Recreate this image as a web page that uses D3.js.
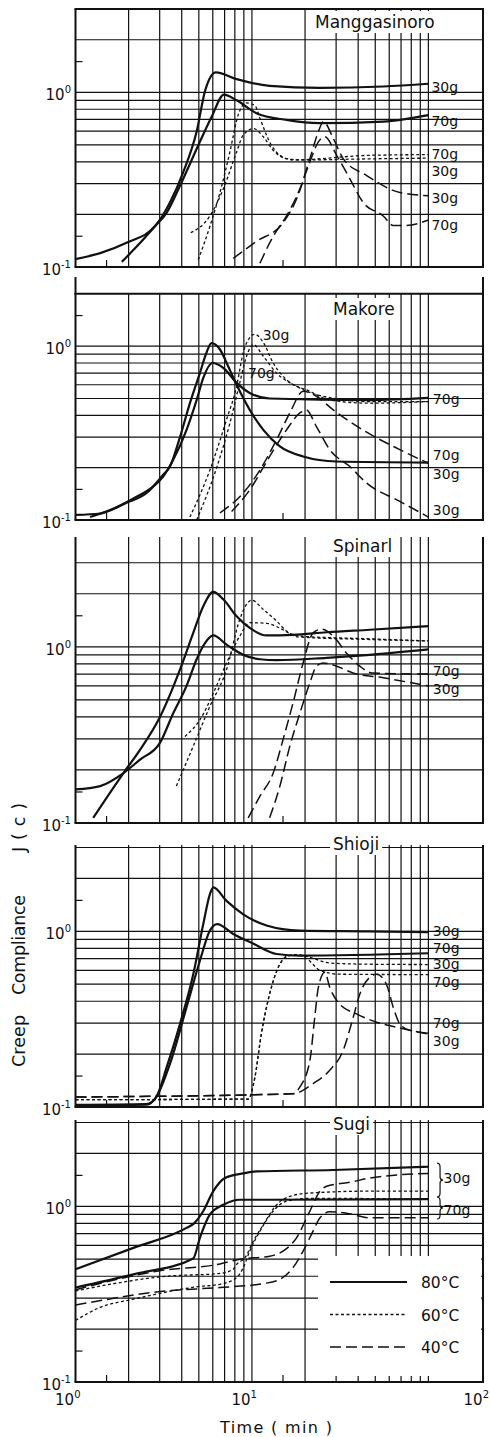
<!DOCTYPE html>
<html>
<head>
<meta charset="utf-8">
<script src="https://cdn.jsdelivr.net/npm/d3@7"></script>
<style>
  body { margin: 0; background: #fff; }
  svg { display: block; background: #fff; }
  text { font-family: "DejaVu Sans", sans-serif; fill: #111; }
</style>
</head>
<body>
<svg id="chart" width="490" height="1437"></svg>
<script>
// ---- data: [time (min), creep compliance J(c)] ----
const woods = ["Manggasinoro", "Makore", "Spinarl", "Shioji", "Sugi"];

// Manggasinoro
const mang80_30 = [[1,0.111],[1.38,0.120],[1.96,0.138],[2.82,0.171],[3.43,0.234],[4.08,0.349],[4.86,0.596],[5.42,1.016],[6.25,1.30],[8.19,1.19],[12.6,1.09],[24.3,1.06],[55.5,1.08],[100,1.12]];
const mang80_70 = [[1.83,0.107],[2.32,0.137],[2.82,0.171],[3.29,0.205],[3.91,0.292],[5.07,0.521],[5.93,0.73],[6.94,0.97],[8.19,0.90],[10.6,0.76],[15.7,0.695],[24.3,0.666],[55.5,0.68],[100,0.74]];
const mang60_70 = [[4.96,0.11],[5.78,0.171],[6.59,0.267],[7.5,0.456],[8.36,0.743],[9.3,0.87],[10.4,0.84],[11.1,0.71],[12.6,0.52],[14.4,0.436],[17.1,0.41],[46.6,0.436],[100,0.44]];
const mang60_30 = [[4.5,0.157],[5.78,0.196],[6.88,0.28],[8.19,0.456],[8.93,0.57],[10.2,0.62],[11.6,0.557],[13.2,0.466],[15.7,0.417],[19.5,0.41],[40,0.415],[100,0.42]];
const mang40_30 = [[7.83,0.112],[10.6,0.140],[15.0,0.179],[17.9,0.245],[21.3,0.417],[23.8,0.596],[25.4,0.68],[28.9,0.545],[32.9,0.417],[44.7,0.334],[68.9,0.267],[100,0.256]];
const mang40_70 = [[11.1,0.105],[13.2,0.15],[15.7,0.196],[18.7,0.28],[21.3,0.40],[23.8,0.52],[25.9,0.557],[30.2,0.436],[35.9,0.32],[42.7,0.234],[55.5,0.196],[63.2,0.173],[75.2,0.173],[100,0.186]];

// Makore
const mak80_30 = [[1,0.107],[1.38,0.109],[1.92,0.125],[2.53,0.143],[3.14,0.182],[3.43,0.203],[3.91,0.30],[4.45,0.47],[5.07,0.70],[5.53,0.92],[5.9,1.04],[6.59,0.957],[7.33,0.767],[8.19,0.60],[9.72,0.43],[11.6,0.33],[14.4,0.265],[19.5,0.232],[30.2,0.217],[100,0.214]];
const mak80_70 = [[1.21,0.104],[1.57,0.114],[2.13,0.133],[2.76,0.156],[3.14,0.178],[3.58,0.222],[4.26,0.33],[4.86,0.49],[5.3,0.657],[5.97,0.80],[6.88,0.75],[8.19,0.615],[9.72,0.538],[12.6,0.50],[46.6,0.49],[100,0.504]];
const mak60_30 = [[4.45,0.104],[5.78,0.194],[7.18,0.378],[8.19,0.588],[8.93,0.92],[9.72,1.12],[10.4,1.17],[11.6,1.05],[13.2,0.80],[15.7,0.642],[21.3,0.55],[27.6,0.49],[46.6,0.47],[100,0.48]];
const mak60_70 = [[4.86,0.1],[6.34,0.203],[7.5,0.361],[8.53,0.615],[9.32,0.875],[10.2,1.02],[11.6,0.875],[13.8,0.70],[17.9,0.588],[23.2,0.526],[46.6,0.48],[100,0.48]];
const mak40_70 = [[6.59,0.110],[8.93,0.143],[11.1,0.194],[13.8,0.29],[16.4,0.413],[19.5,0.55],[23.2,0.515],[28.9,0.43],[44.7,0.32],[68.9,0.254],[100,0.212]];
const mak40_30 = [[7.67,0.112],[9.72,0.149],[12.6,0.232],[15.7,0.33],[18.7,0.413],[20.3,0.43],[23.2,0.345],[27.6,0.254],[35.9,0.203],[44.7,0.163],[68.9,0.128],[100,0.104]];

// Spinarl
const spi80_30 = [[1.26,0.107],[1.87,0.192],[2.32,0.26],[3.01,0.40],[3.91,0.743],[4.65,1.20],[5.3,1.70],[6.04,2.05],[6.88,1.86],[8.19,1.49],[9.72,1.28],[12.1,1.16],[17.1,1.17],[26.5,1.21],[46.6,1.25],[100,1.31]];
const spi80_70 = [[1,0.155],[1.38,0.162],[1.87,0.192],[2.32,0.229],[3.01,0.285],[3.58,0.42],[4.26,0.60],[4.86,0.85],[5.42,1.05],[6.04,1.16],[7.18,1.03],[8.93,0.90],[11.1,0.85],[13.8,0.84],[26.5,0.866],[46.6,0.90],[100,0.966]];
const spi60_30 = [[3.73,0.162],[4.65,0.273],[5.78,0.46],[7.18,0.743],[8.53,1.43],[9.32,1.74],[9.96,1.84],[11.6,1.63],[13.8,1.40],[15.7,1.23],[18.7,1.15],[46.6,1.11],[100,1.08]];
const spi60_70 = [[4.17,0.31],[5.07,0.385],[6.16,0.57],[7.18,0.81],[8.53,1.15],[9.72,1.37],[12.1,1.36],[15,1.25],[17.9,1.14],[46.6,1.10],[100,1.08]];
const spi40_70 = [[9.52,0.107],[11.1,0.142],[13.2,0.192],[15,0.297],[17.1,0.48],[19.5,0.81],[22.2,1.20],[24.8,1.26],[28.9,1.15],[34.4,0.92],[40.9,0.776],[48,0.71],[100,0.70]];
const spi40_30 = [[12.6,0.107],[14.4,0.162],[16.4,0.273],[18.7,0.42],[21.3,0.624],[23.2,0.776],[25.3,0.81],[30.2,0.776],[37.5,0.71],[55.5,0.667],[100,0.60]];

// Shioji
const shi80_30 = [[1,0.103],[2.53,0.104],[2.87,0.114],[3.29,0.169],[3.91,0.297],[4.65,0.57],[5.3,1.10],[5.78,1.63],[6.04,1.78],[7.18,1.49],[8.93,1.25],[12.1,1.08],[18.7,1.01],[44.7,1.0],[100,0.99]];
const shi80_70 = [[1,0.102],[2.53,0.103],[2.87,0.114],[3.43,0.176],[4.26,0.37],[5.07,0.68],[5.78,1.01],[6.35,1.10],[7.83,0.966],[10.2,0.85],[13.8,0.743],[18.7,0.727],[100,0.75]];
const shi60_30 = [[1,0.110],[9.52,0.111],[10.4,0.148],[11.3,0.26],[12.6,0.44],[14.1,0.624],[15.7,0.718],[17.9,0.737],[20.4,0.72],[27.6,0.66],[44.7,0.65],[100,0.647]];
const shi60_70 = [[1,0.110],[9.52,0.111],[10.4,0.148],[11.3,0.26],[12.6,0.44],[14.1,0.624],[15.7,0.718],[17.9,0.737],[20.4,0.70],[24.3,0.60],[31.4,0.57],[100,0.567]];
const shi40_70 = [[1,0.114],[17.1,0.119],[18.7,0.130],[21.3,0.184],[22.7,0.324],[23.8,0.48],[25.9,0.585],[27.6,0.48],[31.4,0.386],[39.1,0.339],[50.9,0.304],[72,0.279],[100,0.26]];
const shi40_30 = [[1,0.114],[17.1,0.119],[22.2,0.136],[27.6,0.162],[32.9,0.21],[37.5,0.324],[40.9,0.44],[46.6,0.548],[50.9,0.57],[57.8,0.50],[63.2,0.37],[68.9,0.297],[78.5,0.273],[100,0.263]];

// Sugi
const sug80_30 = [[1,0.438],[2.13,0.58],[4.26,0.754],[4.7,0.80],[5.3,0.94],[6.04,1.22],[7.03,1.45],[8.93,1.54],[10.6,1.58],[28.9,1.61],[100,1.68]];
const sug80_70 = [[1,0.345],[2.13,0.41],[4.65,0.505],[5.07,0.662],[5.78,0.90],[6.88,1.02],[8.53,1.09],[12.6,1.09],[100,1.10]];
const sug60_30 = [[1,0.33],[3.29,0.40],[6.6,0.415],[7.83,0.438],[8.19,0.467],[9.13,0.51],[10.2,0.634],[11.6,0.787],[13.8,1.02],[16.4,1.14],[21.3,1.19],[46.6,1.22],[100,1.22]];
const sug60_70 = [[1,0.224],[1.38,0.266],[2.13,0.296],[5.07,0.35],[6.59,0.36],[8.19,0.393],[8.93,0.448],[9.72,0.556],[11.1,0.722],[13.2,0.94],[15.7,1.07],[21.3,1.11],[100,1.10]];
const sug40_30 = [[1,0.335],[3.01,0.43],[6.6,0.47],[8.53,0.50],[12.6,0.52],[15,0.556],[17.9,0.662],[21.3,0.94],[24.3,1.22],[26.5,1.30],[37.3,1.38],[46.6,1.45],[100,1.54]];
const sug40_70 = [[1,0.274],[3.29,0.33],[6.59,0.345],[11.6,0.363],[14.4,0.384],[17.1,0.448],[19.5,0.556],[22.2,0.722],[24.3,0.86],[27.6,0.93],[34.4,0.914],[46.6,0.86],[100,0.86]];

// temperature of each curve, panel by panel
const panelCurves = [
  [[mang80_30,"80"],[mang80_70,"80"],[mang60_30,"60"],[mang60_70,"60"],[mang40_30,"40"],[mang40_70,"40"]],
  [[mak80_30,"80"],[mak80_70,"80"],[mak60_30,"60"],[mak60_70,"60"],[mak40_30,"40"],[mak40_70,"40"]],
  [[spi80_30,"80"],[spi80_70,"80"],[spi60_30,"60"],[spi60_70,"60"],[spi40_30,"40"],[spi40_70,"40"]],
  [[shi80_30,"80"],[shi80_70,"80"],[shi60_30,"60"],[shi60_70,"60"],[shi40_30,"40"],[shi40_70,"40"]],
  [[sug80_30,"80"],[sug80_70,"80"],[sug60_30,"60"],[sug60_70,"60"],[sug40_30,"40"],[sug40_70,"40"]]
];

// load labels written next to the curves: [text, time, J]
const mangLabels = [["30g",104,1.0],["70g",104,0.64],["70g",104,0.415],["30g",104,0.332],["30g",104,0.232],["70g",104,0.163]];
const makLabels = [["30g",11.5,1.09],["70g",9.5,0.656],["70g",106,0.465],["70g",106,0.222],["30g",106,0.172],["30g",106,0.107]];
const spiLabels = [["70g",106,0.68],["30g",106,0.543]];
const shiLabels = [["30g",106,0.935],["70g",106,0.752],["30g",106,0.608],["70g",106,0.482],["70g",106,0.28],["30g",106,0.222]];
const sugLabels = [["30g",122,1.36],["70g",122,0.89]];
const panelLabels = [mangLabels, makLabels, spiLabels, shiLabels, sugLabels];
const sugBraces = [[1.76,1.13],[1.13,0.847]];

const gridT = [2,3,4,5,6,7,8,9,10,20,30,40,50,60,70,80,90,100];
const gridJ = [0.2,0.3,0.4,0.5,0.6,0.7,0.8,0.9,1,2,3];
const tickT = [1.5,15];
const tickJ = [0.15,1.5];
const xMax = 204;
const xTickLabels = [[1,"0"],[10,"1"],[xMax,"2"]];
const legendItems = [["80°C","80"],["60°C","60"],["40°C","40"]];

// ---- layout ----
const panels = [
  { yb: 267,  yTop: 9,    yMax: 3.0, topBorder: 3.0, titleX: 315, titleY: 28 },
  { yb: 520,  yTop: 277,  yMax: 2.5, topBorder: 2.0, titleX: 333, titleY: 315 },
  { yb: 823,  yTop: 537,  yMax: 4.2, topBorder: null, titleX: 333, titleY: 552 },
  { yb: 1107, yTop: 845,  yMax: 3.1, topBorder: null, titleX: 333, titleY: 850 },
  { yb: 1382, yTop: 1120, yMax: 3.1, topBorder: null, titleX: 333, titleY: 1130 }
];

const lineStyle = {
  "80": { w: 2.2, dash: null },
  "60": { w: 1.3, dash: "3,2.5" },
  "40": { w: 1.5, dash: "11,5" }
};

const ink = "#111";
const svg = d3.select("#chart");
const x = d3.scaleLog().domain([1, xMax]).range([75.5, 483]);

panels.forEach(function (p, i) {
  const y = d3.scaleLog().domain([0.1, p.yMax]).range([p.yb, p.yTop]);
  const g = svg.append("g");
  const boxTop = p.topBorder ? y(p.topBorder) : p.yTop;

  // grid
  g.selectAll(".vgrid")
    .data(gridT)
    .join("line")
    .attr("class", "vgrid")
    .attr("x1", (d) => x(d)).attr("x2", (d) => x(d))
    .attr("y1", boxTop).attr("y2", p.yb)
    .attr("stroke", ink).attr("stroke-width", 1.2);

  g.selectAll(".hgrid")
    .data(gridJ.filter((v) => v < p.yMax && v !== p.topBorder))
    .join("line")
    .attr("class", "hgrid")
    .attr("x1", x(1)).attr("x2", x(xMax))
    .attr("y1", (d) => y(d)).attr("y2", (d) => y(d))
    .attr("stroke", ink).attr("stroke-width", 1.2);

  // blank legend area in the last panel
  if (i === 4) {
    g.append("rect")
      .attr("x", 318).attr("y", 1256)
      .attr("width", 163).attr("height", p.yb - 1257)
      .attr("fill", "#fff");
    g.selectAll(".stub")
      .data(gridT.filter((v) => v > 20))
      .join("line")
      .attr("class", "stub")
      .attr("x1", (d) => x(d)).attr("x2", (d) => x(d))
      .attr("y1", p.yb).attr("y2", p.yb - 6)
      .attr("stroke", ink).attr("stroke-width", 1.2);
  }

  // frame
  g.append("line").attr("x1", x(1)).attr("x2", x(1))
    .attr("y1", p.yTop).attr("y2", p.yb)
    .attr("stroke", ink).attr("stroke-width", 2);
  g.append("line").attr("x1", x(xMax)).attr("x2", x(xMax))
    .attr("y1", p.yTop).attr("y2", p.yb)
    .attr("stroke", ink).attr("stroke-width", 2);
  g.append("line").attr("x1", x(1) - 1).attr("x2", x(xMax) + 1)
    .attr("y1", y(0.1)).attr("y2", y(0.1))
    .attr("stroke", ink).attr("stroke-width", 2.2);
  if (p.topBorder) {
    g.append("line").attr("x1", x(1) - 1).attr("x2", x(xMax) + 1)
      .attr("y1", y(p.topBorder)).attr("y2", y(p.topBorder))
      .attr("stroke", ink).attr("stroke-width", 2);
  }

  // minor ticks
  g.selectAll(".ltick")
    .data(tickJ)
    .join("line")
    .attr("class", "ltick")
    .attr("x1", x(1)).attr("x2", x(1) + 7)
    .attr("y1", (d) => y(d)).attr("y2", (d) => y(d))
    .attr("stroke", ink).attr("stroke-width", 1.2);
  g.selectAll(".btick")
    .data(tickT)
    .join("line")
    .attr("class", "btick")
    .attr("x1", (d) => x(d)).attr("x2", (d) => x(d))
    .attr("y1", p.yb).attr("y2", p.yb - 7)
    .attr("stroke", ink).attr("stroke-width", 1.2);

  // title with a blank patch behind it
  const title = g.append("text")
    .attr("x", p.titleX).attr("y", p.titleY)
    .style("font-size", "17px")
    .text(woods[i]);
  const bb = title.node().getBBox();
  g.insert("rect", "text")
    .attr("x", bb.x - 3).attr("y", bb.y - 1)
    .attr("width", bb.width + 6).attr("height", bb.height + 2)
    .attr("fill", "#fff");

  // curves
  const line = d3.line()
    .x((d) => x(d[0]))
    .y((d) => y(d[1]))
    .curve(d3.curveMonotoneX);

  g.selectAll(".curve")
    .data(panelCurves[i])
    .join("path")
    .attr("class", "curve")
    .attr("d", (d) => line(d[0]))
    .attr("fill", "none")
    .attr("stroke", ink)
    .attr("stroke-width", (d) => lineStyle[d[1]].w)
    .attr("stroke-dasharray", (d) => lineStyle[d[1]].dash)
    .attr("stroke-linejoin", "round");

  // load labels
  g.selectAll(".load")
    .data(panelLabels[i])
    .join("text")
    .attr("class", "load")
    .attr("x", (d) => x(d[1]))
    .attr("y", (d) => y(d[2]))
    .style("font-size", "14px")
    .text((d) => d[0]);

  // y tick labels 10^0 and 10^-1
  [[1, "0"], [0.1, "-1"]].forEach(function (t) {
    const lab = g.append("text")
      .attr("x", 71).attr("y", y(t[0]) + 8)
      .attr("text-anchor", "end")
      .style("font-size", "15px");
    lab.append("tspan").text("10");
    lab.append("tspan").attr("dy", -7).style("font-size", "10px").text(t[1]);
  });

  if (i === 4) {
    // braces grouping the loads
    sugBraces.forEach(function (b) {
      const x0 = x(112), y1 = y(b[0]), y2 = y(b[1]), ym = (y1 + y2) / 2;
      g.append("path")
        .attr("d", "M" + x0 + "," + y1 +
          " Q" + (x0 + 3) + "," + y1 + " " + (x0 + 3) + "," + (y1 + 4) +
          " L" + (x0 + 3) + "," + (ym - 3) +
          " Q" + (x0 + 3) + "," + ym + " " + (x0 + 6) + "," + ym +
          " Q" + (x0 + 3) + "," + ym + " " + (x0 + 3) + "," + (ym + 3) +
          " L" + (x0 + 3) + "," + (y2 - 4) +
          " Q" + (x0 + 3) + "," + y2 + " " + x0 + "," + y2)
        .attr("fill", "none").attr("stroke", ink).attr("stroke-width", 1.2);
    });

    // legend
    const lg = g.append("g");
    legendItems.forEach(function (d, k) {
      const ly = 1282 + k * 32.5;
      lg.append("line")
        .attr("x1", 330).attr("x2", 407)
        .attr("y1", ly).attr("y2", ly)
        .attr("stroke", ink)
        .attr("stroke-width", lineStyle[d[1]].w)
        .attr("stroke-dasharray", lineStyle[d[1]].dash);
      lg.append("text")
        .attr("x", 421).attr("y", ly + 6)
        .style("font-size", "15.5px")
        .text(d[0]);
    });

    // x tick labels (the last one sits at the right edge, as in the figure)
    xTickLabels.forEach(function (t, k) {
      const lab = svg.append("text")
        .attr("x", k === 2 ? 489 : x(t[0]) + 5)
        .attr("y", 1405)
        .attr("text-anchor", "end")
        .style("font-size", "15px");
      lab.append("tspan").text("10");
      lab.append("tspan").attr("dy", -7).style("font-size", "10px").text(t[1]);
    });
  }
});

// axis titles
svg.append("text")
  .attr("x", 220).attr("y", 1433)
  .attr("textLength", 112)
  .style("font-size", "16px")
  .style("white-space", "pre")
  .text("Time ( min )");

[["Creep", 1067, 52], ["Compliance", 995, 100], ["J ( c )", 852, 49]].forEach(function (t) {
  svg.append("text")
    .attr("transform", "translate(25," + t[1] + ") rotate(-90)")
    .attr("textLength", t[2])
    .style("font-size", "17.5px")
    .style("white-space", "pre")
    .text(t[0]);
});
</script>
</body>
</html>
